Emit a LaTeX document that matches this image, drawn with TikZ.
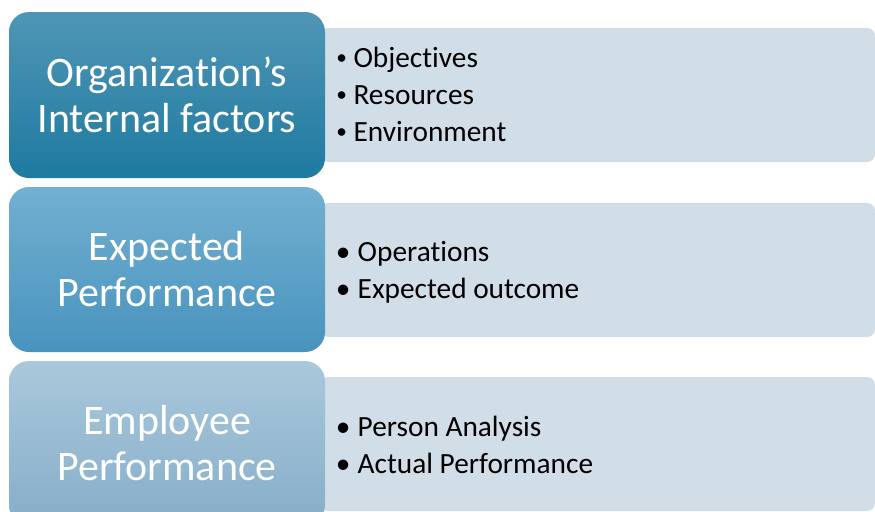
\documentclass[tikz,border=0pt]{standalone}
\usepackage{fontspec}
\setmainfont{Carlito}[Ligatures=NoCommon]
\definecolor{lOneTop}{HTML}{5096B6}
\definecolor{lOneBot}{HTML}{1E7AA0}
\definecolor{lTwoTop}{HTML}{73B0D1}
\definecolor{lTwoBot}{HTML}{4893BD}
\definecolor{lThrTop}{HTML}{A9C8DC}
\definecolor{lThrBot}{HTML}{86AEC8}
\definecolor{panelfill}{HTML}{D2DEE7}
\newcommand{\smbul}{{\fontsize{16}{16}\selectfont\raisebox{1.6pt}{•}}\hspace{5pt}}
\newcommand{\bgbul}{•\hspace{5.5pt}}
\begin{document}
\begin{tikzpicture}[x=0.75pt,y=-0.75pt,
  headbox/.style={rounded corners=15pt, minimum width=237pt, text=white, align=center,
    font=\fontsize{31.5}{34.5}\selectfont, inner sep=0pt},
  panel/.style={rounded corners=6pt, fill=panelfill, minimum width=416.25pt, minimum height=100.5pt, inner sep=0pt},
  items/.style={anchor=west, align=left, font=\fontsize{22}{27.75}\selectfont, inner sep=0pt}]
\useasboundingbox (0,0) rectangle (875,511);
\clip (0,0) rectangle (875,511);
% right panels
\node[panel] (r1) at (597.5,95) {};
\node[panel] (r2) at (597.5,270) {};
\node[panel] (r3) at (597.5,444) {};
% left heading boxes
\node[headbox, minimum height=124.5pt, top color=lOneTop, bottom color=lOneBot] (l1) at (167,95)
  {Organization’s\\Internal factors};
\node[headbox, minimum height=123.75pt, top color=lTwoTop, bottom color=lTwoBot] (l2) at (167,269.5)
  {Expected\\Performance};
\node[headbox, minimum height=123pt, top color=lThrTop, bottom color=lThrBot] (l3) at (167,443)
  {Employee\\Performance};
% items
\node[items] (t1) at (336,94) {\smbul Objectives\\\smbul Resources\\\smbul Environment};
\node[items] (t2) at (335.5,272) {\bgbul Operations\\\bgbul Expected outcome};
\node[items] (t3) at (335.5,445) {\bgbul Person Analysis\\\bgbul Actual Performance};
\end{tikzpicture}
\end{document}
